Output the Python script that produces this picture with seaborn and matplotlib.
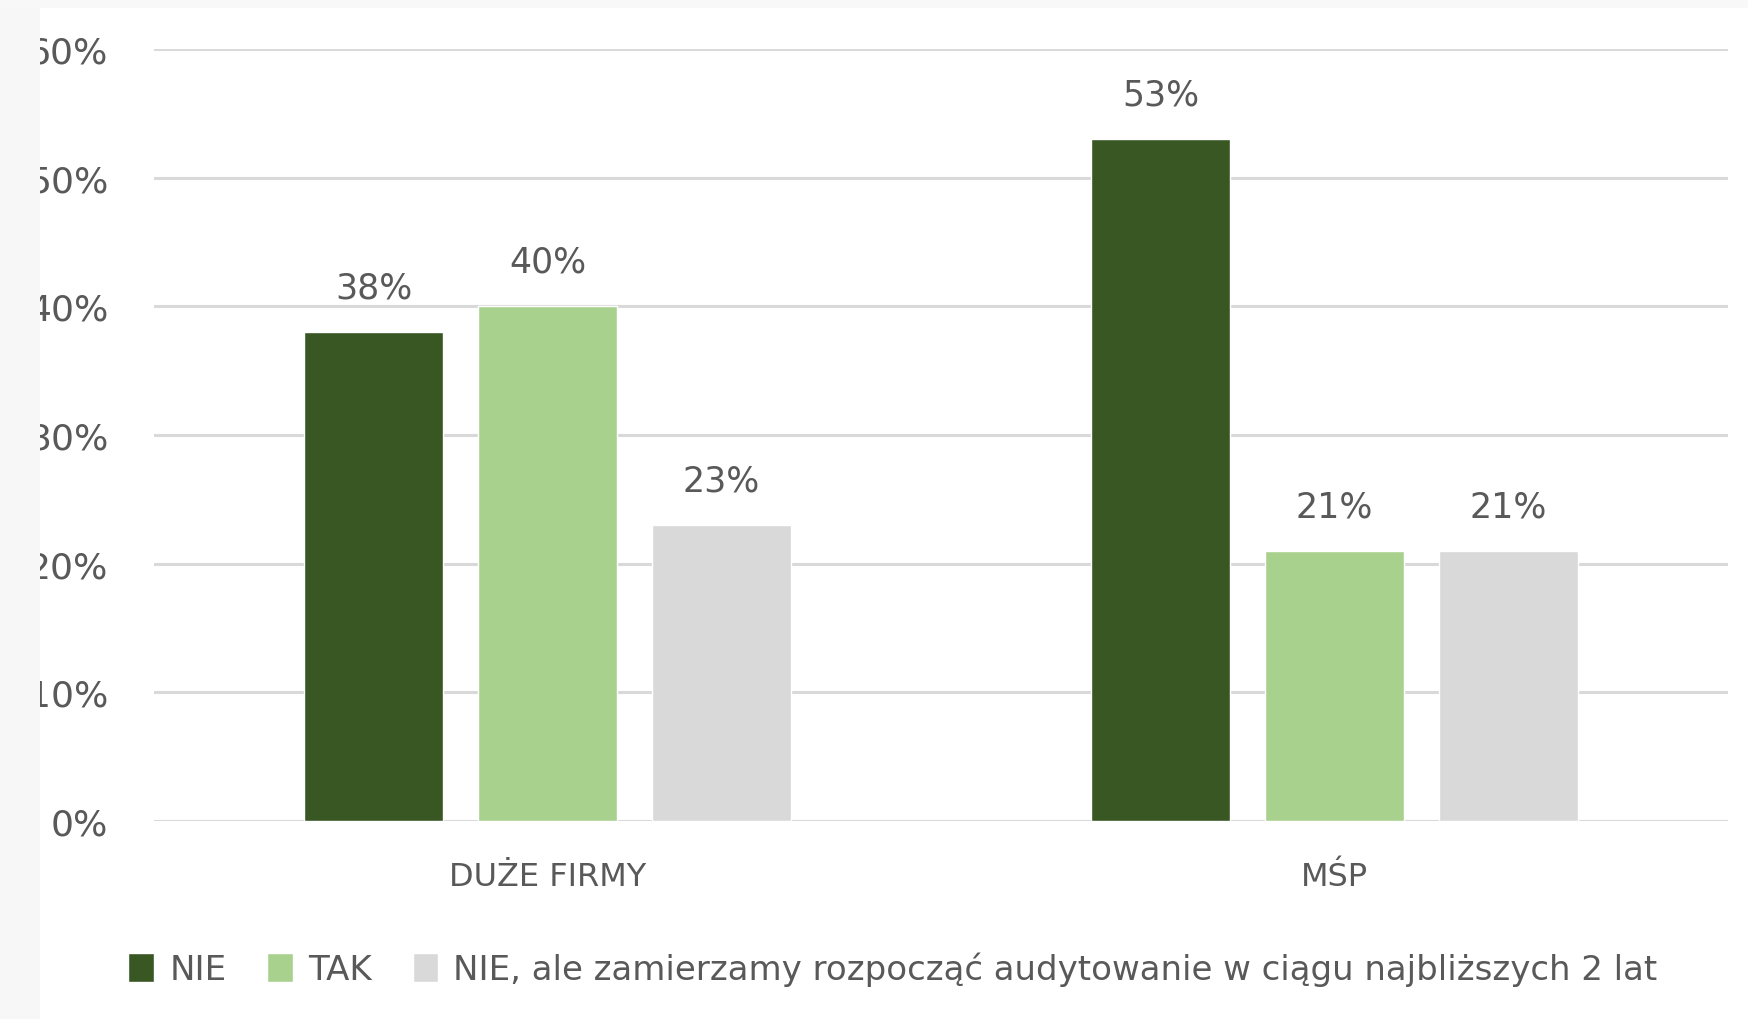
import matplotlib
matplotlib.use("Agg")
import matplotlib.pyplot as plt
from matplotlib.patches import Rectangle
import pandas as pd
import seaborn as sns

# Survey shares per company size
categories = ["DUŻE FIRMY", "MŚP"]
series = ["NIE", "TAK", "NIE, ale zamierzamy rozpocząć audytowanie w ciągu najbliższych 2 lat"]
nie_values = [0.38, 0.53]
tak_values = [0.40, 0.21]
plan_values = [0.23, 0.21]
y_ticks = [0.0, 0.1, 0.2, 0.3, 0.4, 0.5, 0.6]
colors = ["#385723", "#A9D18E", "#D9D9D9"]

rows = []
for name, vals in zip(series, [nie_values, tak_values, plan_values]):
    for cat, v in zip(categories, vals):
        rows.append({"kategoria": cat, "odpowiedź": name, "udział": v})
df = pd.DataFrame(rows)

sns.set_theme(style="white")
plt.rcParams["font.family"] = ["DejaVu Sans"]
text_color = "#595959"

fig = plt.figure(figsize=(17.48, 10.20), dpi=100)
fig.patch.set_facecolor("white")
ax = fig.add_axes([154 / 1748, 1 - 822 / 1020, (1728 - 154) / 1748, (822 - 50) / 1020])

sns.barplot(
    data=df, x="kategoria", y="udział", hue="odpowiedź",
    order=categories, hue_order=series, palette=colors,
    width=0.663, gap=0.2, saturation=1, ax=ax, legend=True,
)

ax.set_ylim(0, 0.6)
ax.set_yticks(y_ticks)
ax.set_yticklabels([f"{t:.0%}" for t in y_ticks])
ax.set_xlabel("")
ax.set_ylabel("")
ax.set_axisbelow(True)
ax.yaxis.grid(True, color="#D9D9D9", linewidth=2.2)
ax.xaxis.grid(False)
for s in ax.spines.values():
    s.set_visible(False)
ax.tick_params(axis="y", length=0, pad=33, labelsize=26, labelcolor=text_color)
ax.tick_params(axis="x", length=0, pad=29, labelsize=23, labelcolor=text_color)

for cont in ax.containers:
    vals = [bar.get_height() for bar in cont]
    ax.bar_label(cont, labels=[f"{v:.0%}" for v in vals], padding=20,
                 fontsize=25, color=text_color)

handles, labels = ax.get_legend_handles_labels()
ax.get_legend().remove()
fig.legend(handles, labels, loc="center", bbox_to_anchor=(893 / 1748, 1 - 970 / 1020),
           ncol=3, frameon=False, fontsize=24.5, labelcolor=text_color,
           handlelength=0.75, handleheight=0.95, handletextpad=0.45, columnspacing=1.2)

# light frame strips along the left and top edges
fig.patches.append(Rectangle((0, 0), 40 / 1748, 1, transform=fig.transFigure,
                             facecolor="#F7F7F7", edgecolor="none", zorder=5))
fig.patches.append(Rectangle((0, 1 - 9 / 1020), 1, 9 / 1020, transform=fig.transFigure,
                             facecolor="#F8F8F8", edgecolor="none", zorder=5))

fig.savefig("out.png", dpi=100)
